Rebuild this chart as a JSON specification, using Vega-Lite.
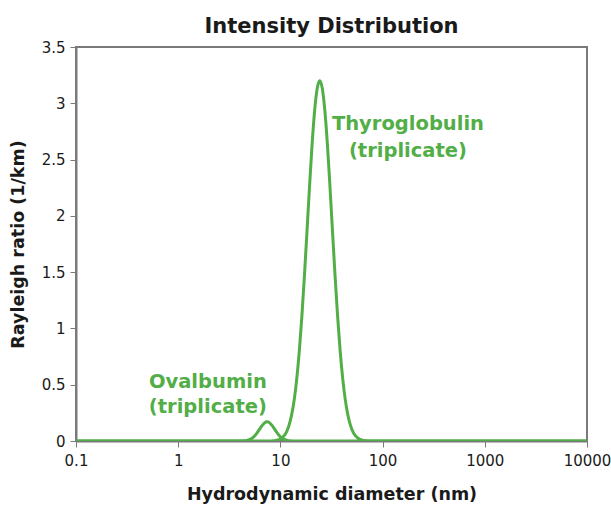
{
  "$schema": "https://vega.github.io/schema/vega-lite/v6.json",
  "width": 511,
  "height": 394,
  "autosize": {"type": "none"},
  "padding": {"left": 76, "top": 47, "right": 24, "bottom": 64},
  "title": {"text": "Intensity Distribution", "font": "DejaVu Sans", "fontSize": 21, "fontWeight": "bold", "color": "#1a1a1a", "offset": 3, "anchor": "middle"},
  "config": {
    "view": {"stroke": "#7a7a7a", "strokeWidth": 2},
    "axis": {"labelFont": "DejaVu Sans", "titleFont": "DejaVu Sans", "labelFontSize": 15, "titleFontSize": 17.5, "titleFontWeight": "bold", "labelColor": "#1a1a1a", "titleColor": "#1a1a1a", "domainColor": "#7a7a7a", "domainWidth": 2, "tickColor": "#7a7a7a", "tickWidth": 1, "grid": false}
  },
  "datasets": {
    "curves": [
      {"sample": "Thyroglobulin", "d": 0.1, "r": 0},
      {"sample": "Thyroglobulin", "d": 7.674, "r": 0},
      {"sample": "Thyroglobulin", "d": 8.610, "r": 0.0028},
      {"sample": "Thyroglobulin", "d": 9.661, "r": 0.0124},
      {"sample": "Thyroglobulin", "d": 10.233, "r": 0.0243},
      {"sample": "Thyroglobulin", "d": 10.839, "r": 0.0455},
      {"sample": "Thyroglobulin", "d": 11.482, "r": 0.0817},
      {"sample": "Thyroglobulin", "d": 12.162, "r": 0.141},
      {"sample": "Thyroglobulin", "d": 12.882, "r": 0.232},
      {"sample": "Thyroglobulin", "d": 13.646, "r": 0.365},
      {"sample": "Thyroglobulin", "d": 14.454, "r": 0.552},
      {"sample": "Thyroglobulin", "d": 15.311, "r": 0.798},
      {"sample": "Thyroglobulin", "d": 16.218, "r": 1.105},
      {"sample": "Thyroglobulin", "d": 17.179, "r": 1.465},
      {"sample": "Thyroglobulin", "d": 18.197, "r": 1.860},
      {"sample": "Thyroglobulin", "d": 19.275, "r": 2.261},
      {"sample": "Thyroglobulin", "d": 20.417, "r": 2.632},
      {"sample": "Thyroglobulin", "d": 21.627, "r": 2.934},
      {"sample": "Thyroglobulin", "d": 22.909, "r": 3.131},
      {"sample": "Thyroglobulin", "d": 24.266, "r": 3.2},
      {"sample": "Thyroglobulin", "d": 25.704, "r": 3.131},
      {"sample": "Thyroglobulin", "d": 27.227, "r": 2.934},
      {"sample": "Thyroglobulin", "d": 28.840, "r": 2.632},
      {"sample": "Thyroglobulin", "d": 30.549, "r": 2.261},
      {"sample": "Thyroglobulin", "d": 32.359, "r": 1.860},
      {"sample": "Thyroglobulin", "d": 34.277, "r": 1.465},
      {"sample": "Thyroglobulin", "d": 36.308, "r": 1.105},
      {"sample": "Thyroglobulin", "d": 38.459, "r": 0.798},
      {"sample": "Thyroglobulin", "d": 40.738, "r": 0.552},
      {"sample": "Thyroglobulin", "d": 43.152, "r": 0.365},
      {"sample": "Thyroglobulin", "d": 45.709, "r": 0.232},
      {"sample": "Thyroglobulin", "d": 48.417, "r": 0.141},
      {"sample": "Thyroglobulin", "d": 51.286, "r": 0.0817},
      {"sample": "Thyroglobulin", "d": 54.325, "r": 0.0455},
      {"sample": "Thyroglobulin", "d": 57.544, "r": 0.0243},
      {"sample": "Thyroglobulin", "d": 60.954, "r": 0.0124},
      {"sample": "Thyroglobulin", "d": 68.391, "r": 0.0028},
      {"sample": "Thyroglobulin", "d": 76.736, "r": 0},
      {"sample": "Thyroglobulin", "d": 10000, "r": 0},
      {"sample": "Ovalbumin", "d": 0.1, "r": 0},
      {"sample": "Ovalbumin", "d": 3.715, "r": 0},
      {"sample": "Ovalbumin", "d": 4.169, "r": 0.0007},
      {"sample": "Ovalbumin", "d": 4.416, "r": 0.0019},
      {"sample": "Ovalbumin", "d": 4.677, "r": 0.0049},
      {"sample": "Ovalbumin", "d": 4.955, "r": 0.0112},
      {"sample": "Ovalbumin", "d": 5.248, "r": 0.0230},
      {"sample": "Ovalbumin", "d": 5.559, "r": 0.0424},
      {"sample": "Ovalbumin", "d": 5.888, "r": 0.070},
      {"sample": "Ovalbumin", "d": 6.237, "r": 0.103},
      {"sample": "Ovalbumin", "d": 6.607, "r": 0.136},
      {"sample": "Ovalbumin", "d": 6.998, "r": 0.161},
      {"sample": "Ovalbumin", "d": 7.413, "r": 0.170},
      {"sample": "Ovalbumin", "d": 7.852, "r": 0.161},
      {"sample": "Ovalbumin", "d": 8.318, "r": 0.136},
      {"sample": "Ovalbumin", "d": 8.810, "r": 0.103},
      {"sample": "Ovalbumin", "d": 9.333, "r": 0.070},
      {"sample": "Ovalbumin", "d": 9.886, "r": 0.0424},
      {"sample": "Ovalbumin", "d": 10.471, "r": 0.0230},
      {"sample": "Ovalbumin", "d": 11.092, "r": 0.0112},
      {"sample": "Ovalbumin", "d": 11.749, "r": 0.0049},
      {"sample": "Ovalbumin", "d": 12.445, "r": 0.0019},
      {"sample": "Ovalbumin", "d": 13.183, "r": 0.0007},
      {"sample": "Ovalbumin", "d": 14.791, "r": 0},
      {"sample": "Ovalbumin", "d": 10000, "r": 0}
    ],
    "labels": [
      {"d": 177, "r": 2.82, "line": "Thyroglobulin"},
      {"d": 177, "r": 2.58, "line": "(triplicate)"},
      {"d": 1.95, "r": 0.525, "line": "Ovalbumin"},
      {"d": 1.95, "r": 0.30, "line": "(triplicate)"}
    ]
  },
  "layer": [
    {
      "data": {"name": "curves"},
      "mark": {"type": "line", "color": "#52ae47", "strokeWidth": 3, "interpolate": "monotone", "clip": true},
      "encoding": {
        "x": {"field": "d", "type": "quantitative", "scale": {"type": "log", "domain": [0.1, 10000], "nice": false},
          "axis": {"title": "Hydrodynamic diameter (nm)", "values": [0.1, 1, 10, 100, 1000, 10000], "format": "~g", "tickSize": 6, "labelPadding": 6, "titlePadding": 17, "labelFlush": false}},
        "y": {"field": "r", "type": "quantitative", "scale": {"domain": [0, 3.5], "nice": false},
          "axis": {"title": "Rayleigh ratio (1/km)", "values": [0, 0.5, 1, 1.5, 2, 2.5, 3, 3.5], "format": "~g", "tickSize": 6, "labelPadding": 5, "titlePadding": 14}},
        "detail": {"field": "sample"},
        "order": {"field": "d", "type": "quantitative"}
      }
    },
    {
      "data": {"name": "labels"},
      "mark": {"type": "text", "color": "#52ae47", "font": "DejaVu Sans", "fontSize": 19.5, "fontWeight": 600, "align": "center", "baseline": "middle"},
      "encoding": {
        "x": {"field": "d", "type": "quantitative"},
        "y": {"field": "r", "type": "quantitative"},
        "text": {"field": "line"}
      }
    }
  ]
}
